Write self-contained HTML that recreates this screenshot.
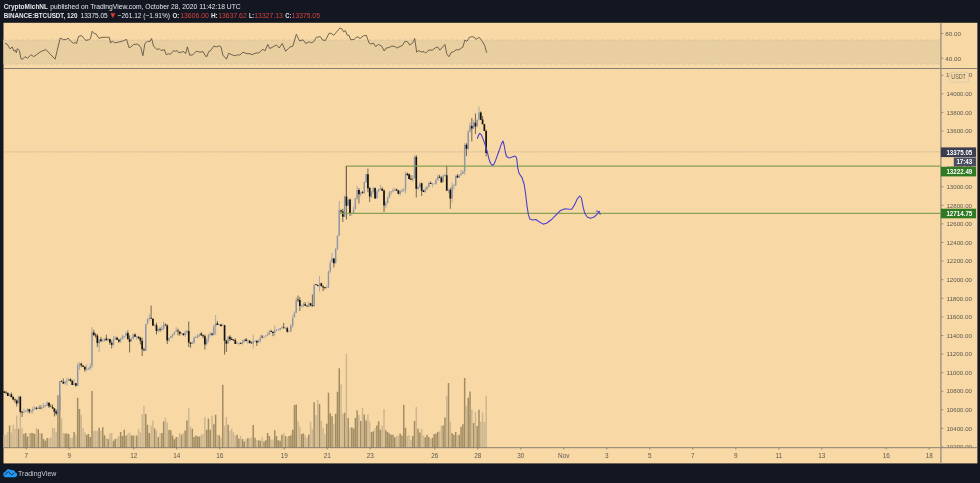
<!DOCTYPE html>
<html><head><meta charset="utf-8"><title>BTCUSDT</title>
<style>html,body{margin:0;padding:0;background:#131722;}body{width:980px;height:483px;overflow:hidden;}svg{display:block;filter:blur(0.35px);}text{font-family:"Liberation Sans",sans-serif;}</style></head><body>
<svg width="980" height="483" viewBox="0 0 980 483">
<rect x="0" y="0" width="980" height="483" fill="#131722"/>
<rect x="3.5" y="22.8" width="973.9" height="440.6" fill="#f8d9a5"/>
<g id="chart">
<rect x="3.5" y="40" width="936.2" height="24" fill="#e9cea0"/>
<path d="M3.5 40H939.7M3.5 64H939.7" stroke="#d6c3a2" stroke-width="0.9" stroke-dasharray="3.2 2.6" fill="none"/>
<polyline fill="none" stroke="#574f40" stroke-width="0.85" stroke-linejoin="round" points="5.1,43.5 7.1,44.1 10.2,49.0 12.2,46.9 13.9,51.0 15.3,50.2 16.3,52.7 17.3,48.6 19.4,50.6 21.0,58.8 22.4,59.4 24.9,56.7 27.6,58.2 31.0,54.7 33.7,56.7 40.8,51.6 45.9,49.6 55.1,59.2 60.2,38.0 63.3,39.6 66.3,39.6 68.0,38.0 70.4,40.8 73.5,43.5 75.1,42.4 76.5,43.5 78.6,36.3 81.6,35.7 85.7,40.4 88.8,39.8 90.4,38.8 92.2,31.2 94.3,33.7 95.9,33.7 99.0,38.4 102.0,37.3 109.2,37.3 110.6,43.1 112.2,41.0 114.7,42.9 122.4,41.2 126.5,39.4 129.0,47.6 130.6,47.1 133.7,44.5 136.7,44.1 138.8,44.9 140.8,47.6 142.9,55.7 144.9,43.5 147.3,41.4 150.0,41.4 151.6,38.4 153.5,46.1 157.1,49.6 159.2,48.6 161.2,50.6 164.3,49.6 166.3,54.7 168.4,53.7 170.4,54.3 173.5,50.6 175.5,51.2 177.1,50.6 178.6,52.7 183.7,51.6 185.7,53.7 187.3,46.9 189.8,55.3 192.9,54.7 196.3,51.2 200.0,52.2 200.0,52.2 203.1,51.6 205.7,56.3 207.1,56.3 208.6,51.6 210.2,51.0 213.9,46.1 216.3,46.9 219.4,45.9 221.0,46.9 222.9,55.1 226.5,59.2 228.6,53.3 232.7,55.1 235.7,55.7 237.8,54.7 239.8,55.1 242.9,52.2 246.9,53.7 250.0,53.7 252.0,54.7 255.1,53.3 259.2,52.7 262.9,49.2 264.9,51.0 267.8,44.5 269.8,48.6 276.5,44.9 279.2,48.0 282.2,43.5 285.7,51.2 289.8,47.1 292.9,46.1 296.3,34.3 299.6,41.0 303.1,39.8 305.7,43.5 309.2,41.8 311.8,42.9 314.3,41.0 316.3,37.3 320.4,36.7 322.4,40.0 325.5,40.4 329.0,33.3 331.0,33.3 333.7,35.3 339.8,28.2 341.8,28.6 343.5,31.8 345.3,30.6 347.3,35.3 349.0,35.3 350.6,39.8 354.1,39.4 357.1,36.7 360.2,38.4 363.3,35.9 366.3,35.3 369.0,42.9 371.0,44.1 373.5,43.1 375.5,46.5 378.6,44.5 381.6,46.1 384.3,51.0 386.1,48.0 388.8,47.6 391.8,46.1 394.9,46.5 396.9,48.0 400.0,46.5 402.4,45.5 404.5,41.8 407.1,41.4 409.8,45.1 412.7,42.9 414.7,38.4 416.7,52.2 418.8,50.6 421.4,52.0 424.1,51.6 425.5,53.1 429.0,50.0 432.2,50.2 435.7,47.6 437.8,47.1 439.8,50.2 444.9,44.5 446.9,54.3 449.0,56.7 451.0,52.7 453.5,51.6 456.7,49.6 459.2,50.0 461.2,48.0 462.9,47.1 464.9,40.0 466.9,41.4 469.4,37.3 471.8,36.7 474.5,37.3 475.9,39.4 479.2,37.3 481.6,40.4 484.7,45.5 486.7,52.7"/>
<path d="M4.20 447.70V434.74M5.99 447.70V434.74M7.78 447.70V431.88M11.37 447.70V432.55M13.16 447.70V424.64M14.95 447.70V428.84M16.74 447.70V415.38M20.32 447.70V413.69M22.12 447.70V428.00M29.28 447.70V433.56M36.45 447.70V428.00M40.03 447.70V433.05M48.99 447.70V438.10M50.78 447.70V437.26M52.58 447.70V427.67M54.37 447.70V428.00M56.16 447.70V431.88M61.53 447.70V417.90M63.33 447.70V433.05M70.49 447.70V438.10M72.28 447.70V437.77M75.87 447.70V434.74M81.24 447.70V415.04M83.03 447.70V428.00M84.83 447.70V432.55M93.78 447.70V430.86M95.58 447.70V430.86M97.37 447.70V430.86M100.95 447.70V430.86M106.33 447.70V437.77M109.91 447.70V433.56M111.70 447.70V433.05M117.08 447.70V438.10M118.87 447.70V436.08M127.83 447.70V433.90M129.62 447.70V432.55M134.99 447.70V435.58M138.57 447.70V428.84M140.37 447.70V432.21M142.16 447.70V414.03M143.95 447.70V406.12M151.12 447.70V425.81M152.91 447.70V420.43M156.49 447.70V430.53M160.07 447.70V433.56M165.45 447.70V417.57M167.24 447.70V422.45M177.99 447.70V436.93M179.78 447.70V433.05M183.37 447.70V433.05M188.74 447.70V408.31M190.53 447.70V426.82M201.28 447.70V434.74M203.07 447.70V433.90M204.87 447.70V417.06M212.03 447.70V415.71M217.41 447.70V434.74M220.99 447.70V437.60M224.57 447.70V425.81M226.37 447.70V417.06M229.95 447.70V430.86M231.74 447.70V428.84M233.53 447.70V432.21M235.32 447.70V435.58M240.70 447.70V436.08M246.07 447.70V439.28M249.66 447.70V438.61M251.45 447.70V437.26M256.82 447.70V440.29M262.20 447.70V437.26M271.16 447.70V439.45M272.95 447.70V439.45M283.70 447.70V433.05M287.28 447.70V437.26M298.03 447.70V421.27M299.82 447.70V426.82M305.20 447.70V435.58M306.99 447.70V437.77M310.57 447.70V421.77M312.37 447.70V428.84M315.95 447.70V415.04M317.74 447.70V400.23M321.32 447.70V420.93M323.12 447.70V427.67M324.91 447.70V433.90M333.87 447.70V423.79M341.03 447.70V384.23M342.82 447.70V414.03M346.41 447.70V353.76M349.99 447.70V428.00M358.95 447.70V415.04M362.53 447.70V407.80M367.91 447.70V414.54M369.70 447.70V421.77M375.07 447.70V428.00M382.24 447.70V425.48M384.03 447.70V408.98M396.57 447.70V436.08M398.37 447.70V435.58M407.32 447.70V436.08M409.12 447.70V435.24M410.91 447.70V439.79M416.28 447.70V406.96M421.66 447.70V428.84M423.45 447.70V435.58M430.62 447.70V438.95M439.57 447.70V431.37M441.37 447.70V425.48M446.74 447.70V396.02M450.32 447.70V422.11M457.49 447.70V435.24M466.45 447.70V406.12M471.82 447.70V409.48M475.41 447.70V412.01M480.78 447.70V421.77M482.57 447.70V412.51M484.37 447.70V421.77M486.16 447.70V396.02" stroke="#cdb792" stroke-width="1.5" fill="none"/>
<path d="M9.57 447.70V425.48M18.53 447.70V428.84M23.91 447.70V433.90M25.70 447.70V433.05M27.49 447.70V436.42M31.07 447.70V433.05M32.87 447.70V433.05M34.66 447.70V433.90M38.24 447.70V429.18M41.83 447.70V433.56M43.62 447.70V438.95M45.41 447.70V440.63M47.20 447.70V438.10M57.95 447.70V395.17M59.74 447.70V395.17M65.12 447.70V433.56M66.91 447.70V433.56M68.70 447.70V433.90M74.08 447.70V431.88M77.66 447.70V397.70M79.45 447.70V408.98M86.62 447.70V434.74M88.41 447.70V433.90M90.20 447.70V436.93M91.99 447.70V390.97M99.16 447.70V427.67M102.74 447.70V427.16M104.53 447.70V435.24M108.12 447.70V438.95M113.49 447.70V440.63M115.28 447.70V438.95M120.66 447.70V431.88M122.45 447.70V436.08M124.24 447.70V429.69M126.03 447.70V435.58M131.41 447.70V435.58M133.20 447.70V435.58M136.78 447.70V435.58M145.74 447.70V414.03M147.53 447.70V424.64M149.32 447.70V433.05M154.70 447.70V428.51M158.28 447.70V436.93M161.87 447.70V433.05M163.66 447.70V421.27M169.03 447.70V429.69M170.82 447.70V430.19M172.62 447.70V435.58M174.41 447.70V439.28M176.20 447.70V436.93M181.57 447.70V434.74M185.16 447.70V430.53M186.95 447.70V420.43M192.32 447.70V428.84M194.12 447.70V436.93M195.91 447.70V435.58M197.70 447.70V436.42M199.49 447.70V436.42M206.66 447.70V429.69M208.45 447.70V418.41M210.24 447.70V429.69M213.82 447.70V424.13M215.62 447.70V414.87M219.20 447.70V435.24M222.78 447.70V384.74M228.16 447.70V424.64M237.12 447.70V434.74M238.91 447.70V438.61M242.49 447.70V438.95M244.28 447.70V441.47M247.87 447.70V438.10M253.24 447.70V424.97M255.03 447.70V437.77M258.62 447.70V440.29M260.41 447.70V440.63M263.99 447.70V441.47M265.78 447.70V440.29M267.57 447.70V433.05M269.37 447.70V436.08M274.74 447.70V430.19M276.53 447.70V436.08M278.32 447.70V440.29M280.12 447.70V440.63M281.91 447.70V434.74M285.49 447.70V436.08M289.07 447.70V436.08M290.87 447.70V435.24M292.66 447.70V429.69M294.45 447.70V404.94M296.24 447.70V404.43M301.62 447.70V433.90M303.41 447.70V433.56M308.78 447.70V434.74M314.16 447.70V402.25M319.53 447.70V404.10M326.70 447.70V423.79M328.49 447.70V392.65M330.28 447.70V413.36M332.07 447.70V416.22M335.66 447.70V413.69M337.45 447.70V391.81M339.24 447.70V368.24M344.62 447.70V412.85M348.20 447.70V417.90M351.78 447.70V427.16M353.57 447.70V428.51M355.37 447.70V417.90M357.16 447.70V410.33M360.74 447.70V420.93M364.32 447.70V414.54M366.12 447.70V420.43M371.49 447.70V431.88M373.28 447.70V431.37M376.87 447.70V425.48M378.66 447.70V421.27M380.45 447.70V429.69M385.82 447.70V430.19M387.62 447.70V431.88M389.41 447.70V433.56M391.20 447.70V434.74M392.99 447.70V434.74M394.78 447.70V437.26M400.16 447.70V433.56M401.95 447.70V435.58M403.74 447.70V404.94M405.53 447.70V427.67M412.70 447.70V436.08M414.49 447.70V420.93M418.07 447.70V428.84M419.87 447.70V432.55M425.24 447.70V437.26M427.03 447.70V434.74M428.82 447.70V436.93M432.41 447.70V437.77M434.20 447.70V433.90M435.99 447.70V433.56M437.78 447.70V431.88M443.16 447.70V425.48M444.95 447.70V417.57M448.53 447.70V383.05M452.12 447.70V433.05M453.91 447.70V434.74M455.70 447.70V431.88M459.28 447.70V434.74M461.07 447.70V426.82M462.87 447.70V424.30M464.66 447.70V378.00M468.24 447.70V397.70M470.03 447.70V391.47M473.62 447.70V422.95M477.20 447.70V425.98M478.99 447.70V409.82" stroke="#a28c64" stroke-width="1.5" fill="none"/>
<path d="M3.5 151.9H940.9" stroke="#a39a86" stroke-width="0.65" stroke-dasharray="1.1 1.0" fill="none"/>
<path d="M9.57 393.57V396.69M18.53 395.90V403.64M23.91 408.63V412.95M25.70 409.91V411.75M27.49 407.82V412.43M31.07 409.85V413.30M32.87 406.72V413.70M34.66 405.99V409.76M38.24 406.01V409.08M41.83 404.61V410.20M43.62 402.95V408.27M45.41 404.98V407.29M47.20 401.40V405.92M57.95 408.33V414.88M59.74 380.85V411.09M65.12 381.24V384.73M66.91 377.46V385.46M68.70 378.21V380.84M74.08 378.99V385.53M77.66 362.81V386.30M79.45 362.28V369.98M86.62 364.49V371.14M88.41 367.56V369.95M90.20 363.55V370.35M91.99 327.00V368.10M99.16 338.97V352.00M102.74 338.44V341.40M104.53 338.30V341.22M108.12 338.15V341.19M113.49 336.23V346.40M115.28 335.67V339.52M120.66 337.69V342.73M122.45 334.79V339.70M124.24 335.79V338.49M126.03 331.49V336.80M131.41 337.48V341.55M133.20 333.74V339.16M136.78 335.61V340.01M145.74 323.99V350.94M147.53 318.01V324.12M149.32 313.84V321.05M154.70 324.04V326.61M158.28 328.38V332.33M161.87 325.46V331.15M163.66 321.50V329.64M169.03 337.66V341.71M170.82 335.69V337.99M172.62 333.88V337.93M174.41 331.46V334.67M176.20 327.15V332.01M181.57 332.42V334.03M185.16 330.57V336.84M186.95 330.16V334.10M192.32 340.94V343.89M194.12 336.63V344.36M195.91 335.85V338.08M197.70 334.29V338.32M199.49 333.78V336.86M206.66 338.15V345.39M208.45 333.78V342.20M210.24 332.44V336.77M213.82 324.38V335.63M215.62 315.00V334.70M219.20 324.03V325.98M222.78 323.44V325.18M228.16 336.14V343.48M237.12 341.55V343.59M238.91 342.45V345.38M242.49 339.62V344.81M244.28 338.95V342.07M247.87 339.36V343.86M253.24 334.50V348.50M255.03 340.41V341.91M258.62 339.07V342.61M260.41 335.04V342.49M263.99 336.54V338.58M265.78 335.31V336.87M267.57 332.67V335.62M269.37 330.16V334.69M274.74 325.43V335.84M276.53 329.35V330.60M278.32 329.49V330.92M280.12 327.89V331.00M281.91 326.26V329.06M285.49 327.22V328.87M289.07 330.85V331.62M290.87 323.86V332.27M292.66 314.84V327.60M294.45 311.37V317.45M296.24 297.48V313.00M301.62 304.64V307.40M303.41 302.43V307.48M308.78 301.07V307.19M314.16 283.65V306.59M319.53 276.00V291.50M326.70 285.77V288.30M328.49 270.70V287.80M330.28 260.33V273.10M332.07 253.00V262.72M335.66 247.77V263.80M337.45 235.25V250.25M339.24 201.00V235.74M344.62 195.77V216.98M348.20 198.72V206.10M351.78 212.58V215.61M353.57 206.44V213.02M355.37 197.71V209.07M357.16 185.87V199.39M360.74 191.64V196.42M364.32 181.63V193.69M366.12 173.85V182.74M371.49 191.19V198.23M373.28 186.64V193.52M376.87 189.77V198.63M378.66 188.88V192.22M380.45 184.80V189.99M385.82 200.88V208.31M387.62 196.73V203.55M389.41 190.91V198.09M391.20 191.03V194.87M392.99 188.26V192.43M394.78 188.28V191.16M400.16 190.40V195.55M401.95 188.56V192.25M403.74 188.22V192.19M405.53 171.81V193.30M412.70 175.14V181.68M414.49 155.29V178.12M418.07 185.96V189.87M419.87 182.14V187.85M425.24 187.32V193.06M427.03 186.24V190.13M428.82 182.16V187.66M432.41 183.12V187.26M434.20 183.64V184.19M435.99 178.35V184.73M437.78 174.44V180.85M443.16 174.45V182.10M444.95 173.61V176.67M448.53 189.21V193.25M452.12 182.62V202.35M453.91 183.71V189.73M455.70 175.24V185.79M459.28 174.30V177.99M461.07 169.95V175.24M462.87 170.07V173.79M464.66 143.04V174.69M468.24 130.19V149.97M470.03 122.45V132.55M473.62 120.20V128.36M477.20 119.27V127.21M478.99 106.60V120.45" stroke="#8d95a8" stroke-width="0.7" fill="none"/>
<path d="M4.20 390.85V393.09M5.99 390.75V393.46M7.78 392.21V395.98M11.37 392.52V397.61M13.16 396.02V400.41M14.95 398.43V402.81M16.74 399.37V406.50M20.32 395.84V413.67M22.12 411.10V417.00M29.28 408.79V413.50M36.45 407.10V409.76M40.03 405.33V409.00M48.99 402.26V407.91M50.78 404.31V406.72M52.58 404.56V408.96M54.37 407.98V416.50M56.16 409.35V415.37M61.53 380.25V381.56M63.33 378.48V383.87M70.49 378.56V381.61M72.28 379.98V384.92M75.87 382.95V386.88M81.24 362.57V367.31M83.03 364.99V366.85M84.83 366.44V371.83M93.78 329.85V336.24M95.58 333.23V337.74M97.37 334.01V347.00M100.95 336.83V342.37M106.33 334.74V340.63M109.91 338.74V344.71M111.70 340.46V348.50M117.08 336.69V339.96M118.87 338.75V342.92M127.83 330.33V339.22M129.62 335.35V352.50M134.99 333.33V337.03M138.57 336.19V338.74M140.37 336.80V344.33M142.16 337.60V356.00M143.95 347.79V350.56M151.12 305.60V319.11M152.91 318.34V326.07M156.49 322.77V334.50M160.07 327.37V331.75M165.45 323.43V325.33M167.24 324.21V344.00M177.99 328.63V335.33M179.78 330.91V335.81M183.37 333.35V335.82M188.74 321.50V347.00M190.53 342.11V347.82M201.28 332.20V335.94M203.07 334.64V338.29M204.87 334.40V349.60M212.03 332.49V335.65M217.41 321.02V324.88M220.99 324.08V326.87M224.57 324.82V354.50M226.37 339.71V352.00M229.95 335.29V341.22M231.74 337.09V339.97M233.53 338.97V340.79M235.32 338.28V343.98M240.70 342.38V343.70M246.07 338.03V341.29M249.66 340.17V343.47M251.45 341.53V343.77M256.82 339.94V346.00M262.20 334.94V337.66M271.16 329.71V332.25M272.95 330.90V336.21M283.70 323.00V328.20M287.28 326.73V332.54M298.03 295.50V301.94M299.82 297.14V311.00M305.20 302.02V305.84M306.99 305.45V306.48M310.57 302.99V306.28M312.37 294.50V306.30M315.95 284.17V285.17M317.74 284.54V286.50M321.32 282.67V286.93M323.12 285.20V291.14M324.91 287.08V289.19M333.87 258.31V267.50M341.03 209.44V212.76M342.82 208.82V222.00M346.41 166.40V219.50M349.99 198.59V216.00M358.95 188.13V203.50M362.53 190.99V193.73M367.91 168.60V192.14M369.70 187.59V202.00M375.07 187.49V198.88M382.24 187.42V190.64M384.03 189.51V212.00M396.57 188.68V191.14M398.37 189.83V194.38M407.32 172.48V176.05M409.12 173.43V179.49M410.91 175.08V179.75M416.28 155.00V197.50M421.66 182.70V196.00M423.45 189.78V191.96M430.62 181.33V183.93M439.57 174.83V178.07M441.37 176.39V182.35M446.74 165.50V190.60M450.32 187.94V208.80M457.49 174.15V177.95M466.45 143.17V156.00M471.82 118.00V141.50M475.41 113.50V134.00M480.78 111.36V119.77M482.57 116.01V124.20M484.37 123.86V131.09M486.16 129.64V156.40" stroke="#3a362e" stroke-width="0.7" fill="none"/>
<path d="M9.57 394.58V396.10M18.53 397.11V403.45M23.91 412.00V412.70M25.70 410.91V411.85M27.49 409.09V411.12M31.07 410.77V411.47M32.87 408.98V410.64M34.66 408.42V409.12M38.24 407.97V409.03M41.83 407.32V408.35M43.62 406.31V407.45M45.41 405.32V406.02M47.20 402.49V405.88M57.95 410.33V413.70M59.74 381.29V410.37M65.12 381.46V383.46M66.91 380.60V381.56M68.70 379.04V380.66M74.08 383.55V384.95M77.66 365.73V385.93M79.45 364.22V365.88M86.62 368.95V369.65M88.41 367.97V369.02M90.20 366.19V368.13M91.99 332.22V365.95M99.16 339.32V343.39M102.74 340.79V341.49M104.53 338.68V341.22M108.12 338.86V340.42M113.49 339.43V344.87M115.28 337.84V339.70M120.66 338.78V341.21M122.45 336.60V338.63M124.24 336.18V336.88M126.03 333.17V336.10M131.41 338.84V341.31M133.20 334.40V338.63M136.78 336.35V337.05M145.74 324.25V350.82M147.53 319.64V324.16M149.32 318.31V319.43M154.70 324.76V325.69M158.28 329.22V330.97M161.87 328.57V330.05M163.66 324.66V328.64M169.03 337.94V340.59M170.82 336.07V337.94M172.62 334.30V336.11M174.41 332.36V334.56M176.20 330.38V332.12M181.57 333.33V334.03M185.16 332.41V335.30M186.95 330.84V332.59M192.32 342.71V344.08M194.12 337.41V342.76M195.91 337.06V337.76M197.70 334.88V337.42M199.49 333.99V334.72M206.66 339.60V344.10M208.45 334.99V339.58M210.24 333.64V334.72M213.82 326.68V335.02M215.62 323.60V326.41M219.20 324.30V325.00M222.78 324.91V325.61M228.16 336.57V343.57M237.12 342.82V343.52M238.91 343.00V343.70M242.49 341.71V343.38M244.28 339.51V342.24M247.87 340.68V341.38M253.24 341.41V343.38M255.03 340.69V341.61M258.62 340.30V342.74M260.41 337.43V340.75M263.99 336.64V337.34M265.78 335.62V336.57M267.57 334.31V335.56M269.37 331.59V334.71M274.74 330.10V333.05M276.53 329.62V330.32M278.32 329.48V330.18M280.12 328.09V329.55M281.91 327.50V328.25M285.49 327.84V328.54M289.07 331.08V331.78M290.87 325.49V331.36M292.66 317.88V325.49M294.45 312.76V317.44M296.24 300.08V312.86M301.62 305.67V306.52M303.41 304.25V305.81M308.78 303.50V306.80M314.16 284.93V306.19M319.53 283.41V285.34M326.70 286.73V287.43M328.49 271.23V287.60M330.28 263.19V271.32M332.07 257.98V262.33M335.66 248.98V262.98M337.45 235.73V248.99M339.24 210.02V235.70M344.62 196.28V216.94M348.20 200.00V205.70M351.78 212.77V213.47M353.57 209.32V213.15M355.37 198.24V209.15M357.16 189.90V198.53M360.74 192.69V194.14M364.32 181.96V193.25M366.12 174.06V182.35M371.49 191.82V196.74M373.28 188.59V192.08M376.87 191.38V198.20M378.66 189.10V191.22M380.45 188.31V189.52M385.82 202.99V205.52M387.62 197.69V203.04M389.41 192.51V197.63M391.20 191.40V192.30M392.99 190.29V191.36M394.78 189.16V190.53M400.16 191.17V193.81M401.95 190.36V191.21M403.74 189.64V190.34M405.53 173.41V189.80M412.70 178.09V180.03M414.49 157.51V178.13M418.07 186.95V189.03M419.87 183.78V186.88M425.24 189.35V192.00M427.03 186.69V189.22M428.82 182.84V186.97M432.41 183.62V184.32M434.20 183.55V184.25M435.99 180.19V183.75M437.78 176.49V180.04M443.16 175.63V182.03M444.95 174.96V175.66M448.53 189.70V190.69M452.12 186.14V198.38M453.91 185.23V185.93M455.70 176.27V185.50M459.28 175.52V177.41M461.07 173.75V175.39M462.87 171.67V173.93M464.66 145.22V171.71M468.24 131.38V149.03M470.03 125.56V131.16M473.62 122.50V128.43M477.20 119.99V126.30M478.99 112.43V119.44" stroke="#8d95a8" stroke-width="1.4" fill="none"/>
<path d="M4.20 391.41V392.78M5.99 392.50V393.20M7.78 393.04V395.88M11.37 394.15V397.06M13.16 397.05V399.59M14.95 399.62V400.32M16.74 400.56V403.47M20.32 396.87V411.92M22.12 411.80V412.50M29.28 409.18V411.62M36.45 407.87V408.79M40.03 407.79V408.49M48.99 402.65V406.28M50.78 406.17V406.87M52.58 407.11V408.45M54.37 408.42V411.83M56.16 411.57V413.55M61.53 381.21V381.91M63.33 381.90V383.55M70.49 379.21V380.98M72.28 381.06V384.97M75.87 383.26V385.56M81.24 363.86V365.13M83.03 365.42V366.74M84.83 366.78V369.58M93.78 332.41V334.94M95.58 334.66V335.40M97.37 335.79V343.04M100.95 339.43V340.94M106.33 338.62V340.21M109.91 339.07V342.79M111.70 343.05V344.65M117.08 337.83V339.79M118.87 339.80V341.52M127.83 332.98V339.23M129.62 339.32V341.80M134.99 334.59V336.71M138.57 336.86V338.19M140.37 337.75V340.65M142.16 340.82V349.21M143.95 349.44V350.62M151.12 317.66V318.54M152.91 318.65V325.43M156.49 325.21V330.93M160.07 329.29V329.99M165.45 324.71V325.41M167.24 325.43V340.39M177.99 330.56V331.33M179.78 331.72V333.82M183.37 333.59V335.06M188.74 331.06V342.51M190.53 342.45V343.86M201.28 333.49V335.23M203.07 335.22V336.22M204.87 336.35V344.55M212.03 333.70V334.73M217.41 323.20V325.04M220.99 324.42V326.00M224.57 325.26V340.72M226.37 340.64V343.79M229.95 336.64V339.26M231.74 339.07V339.98M233.53 339.82V340.52M235.32 340.25V343.99M240.70 343.18V343.88M246.07 339.52V341.08M249.66 340.80V342.98M251.45 342.65V343.35M256.82 340.97V342.54M262.20 336.72V337.42M271.16 331.30V332.00M272.95 332.01V333.05M283.70 327.56V328.26M287.28 328.34V331.72M298.03 299.60V300.30M299.82 300.05V305.96M305.20 304.31V305.72M306.99 305.84V306.54M310.57 303.31V305.28M312.37 305.19V306.19M315.95 284.34V285.04M317.74 285.11V285.81M321.32 283.37V286.08M323.12 286.50V287.56M324.91 287.31V288.01M333.87 258.52V263.19M341.03 210.38V211.43M342.82 211.52V216.72M346.41 196.53V205.68M349.99 199.46V213.37M358.95 190.02V194.21M362.53 192.30V193.04M367.91 174.13V188.35M369.70 187.86V196.58M375.07 188.10V198.38M382.24 188.78V190.79M384.03 190.45V205.44M396.57 189.50V190.46M398.37 190.48V193.65M407.32 173.71V174.96M409.12 174.32V178.89M410.91 178.72V179.82M416.28 157.08V188.82M421.66 183.17V190.75M423.45 190.51V192.11M430.62 183.09V183.95M439.57 176.66V177.71M441.37 177.76V182.47M446.74 175.13V190.77M450.32 189.70V198.42M457.49 175.71V177.56M466.45 144.74V148.83M471.82 126.04V128.62M475.41 122.82V126.38M480.78 112.45V119.78M482.57 119.60V124.13M484.37 124.26V131.01M486.16 131.02V152.90" stroke="#15130f" stroke-width="1.7" fill="none"/>
<path d="M345.6 166.1H940.9M339.9 213.3H940.9" stroke="#86a156" stroke-width="1.25" fill="none"/>
<path d="M346.3 166.3V196" stroke="#6a6150" stroke-width="0.9" fill="none"/>
<polyline fill="none" stroke="#4b40d0" stroke-width="1.1" stroke-linejoin="round" stroke-linecap="round" points="477.4,138.4 478.6,135.0 479.8,133.4 481.3,134.8 483.1,138.9 486.5,148.8 488.9,158.7 490.6,163.5 492.3,165.4 494.0,164.0 495.6,160.4 498.9,151.3 501.4,143.8 503.0,141.0 504.2,145.5 505.5,153.0 506.4,156.0 508.4,157.8 510.5,157.6 512.1,157.1 514.9,156.1 516.2,157.2 516.8,159.3 517.7,167.7 519.0,173.3 522.0,177.6 524.2,184.5 525.7,194.7 527.0,205.9 528.3,214.2 529.8,218.9 532.6,220.0 535.8,219.5 539.1,221.7 543.2,224.1 546.6,223.2 551.2,219.8 555.9,215.2 560.5,210.5 565.2,208.7 568.9,209.2 571.7,209.2 574.5,204.9 577.3,198.8 579.7,196.0 581.4,198.0 582.9,205.9 584.7,213.3 587.2,217.0 590.3,218.3 594.0,217.0 596.8,214.6 599.3,211.5"/>
<path d="M596.3 211.2L599.4 211.4L600.2 214.6" fill="none" stroke="#4b40d0" stroke-width="0.9" stroke-linecap="round" stroke-linejoin="round"/>
</g>
<path d="M3.5 68.5H977.4M3.5 447.7H977.4" stroke="#7b766b" stroke-width="0.9" fill="none"/>
<path d="M940.9 22.8V463.4" stroke="#989080" stroke-width="1.35" fill="none"/>
<g font-size="6.2" fill="#5c5852">
<text x="946.4" y="96.0" textLength="25.6" lengthAdjust="spacingAndGlyphs">14000.00</text>
<text x="946.4" y="114.6" textLength="25.6" lengthAdjust="spacingAndGlyphs">13800.00</text>
<text x="946.4" y="133.2" textLength="25.6" lengthAdjust="spacingAndGlyphs">13600.00</text>
<text x="946.4" y="151.8" textLength="25.6" lengthAdjust="spacingAndGlyphs">13400.00</text>
<text x="946.4" y="170.4" textLength="25.6" lengthAdjust="spacingAndGlyphs">13200.00</text>
<text x="946.4" y="188.9" textLength="25.6" lengthAdjust="spacingAndGlyphs">13000.00</text>
<text x="946.4" y="207.5" textLength="25.6" lengthAdjust="spacingAndGlyphs">12800.00</text>
<text x="946.4" y="226.1" textLength="25.6" lengthAdjust="spacingAndGlyphs">12600.00</text>
<text x="946.4" y="244.7" textLength="25.6" lengthAdjust="spacingAndGlyphs">12400.00</text>
<text x="946.4" y="263.3" textLength="25.6" lengthAdjust="spacingAndGlyphs">12200.00</text>
<text x="946.4" y="281.9" textLength="25.6" lengthAdjust="spacingAndGlyphs">12000.00</text>
<text x="946.4" y="300.5" textLength="25.6" lengthAdjust="spacingAndGlyphs">11800.00</text>
<text x="946.4" y="319.1" textLength="25.6" lengthAdjust="spacingAndGlyphs">11600.00</text>
<text x="946.4" y="337.7" textLength="25.6" lengthAdjust="spacingAndGlyphs">11400.00</text>
<text x="946.4" y="356.3" textLength="25.6" lengthAdjust="spacingAndGlyphs">11200.00</text>
<text x="946.4" y="374.9" textLength="25.6" lengthAdjust="spacingAndGlyphs">11000.00</text>
<text x="946.4" y="393.4" textLength="25.6" lengthAdjust="spacingAndGlyphs">10800.00</text>
<text x="946.4" y="412.0" textLength="25.6" lengthAdjust="spacingAndGlyphs">10600.00</text>
<text x="946.4" y="430.6" textLength="25.6" lengthAdjust="spacingAndGlyphs">10400.00</text>
<text x="945.3" y="35.7" textLength="15.7" lengthAdjust="spacingAndGlyphs">80.00</text>
<text x="945.3" y="60.5" textLength="15.7" lengthAdjust="spacingAndGlyphs">40.00</text>
</g>
<path d="M941.3 75.2h2M941.3 93.8h2M941.3 112.4h2M941.3 131.0h2M941.3 149.6h2M941.3 168.2h2M941.3 186.8h2M941.3 205.3h2M941.3 223.9h2M941.3 242.5h2M941.3 261.1h2M941.3 279.7h2M941.3 298.3h2M941.3 316.9h2M941.3 335.5h2M941.3 354.1h2M941.3 372.7h2M941.3 391.2h2M941.3 409.8h2M941.3 428.4h2M941.3 447.0h2M941.3 33.5h2M941.3 58.3h2" stroke="#6f685a" stroke-width="0.7" fill="none"/>
<clipPath id="cb"><rect x="942" y="440" width="36" height="7.2"/></clipPath>
<g clip-path="url(#cb)" font-size="6.2" fill="#5c5852"><text x="946.4" y="449.2" textLength="25.6" lengthAdjust="spacingAndGlyphs">10200.00</text></g>
<g font-size="6.2" fill="#5c5852"><text x="946.1" y="77.4" textLength="26.2" lengthAdjust="spacingAndGlyphs">14200.00</text></g>
<rect x="949.3" y="72.3" width="19.3" height="9.8" rx="2" fill="#f8d9a5" stroke="#cfc6b2" stroke-width="0.7"/>
<text x="951.3" y="78.5" font-size="6.3" fill="#5c5852" textLength="14.6" lengthAdjust="spacingAndGlyphs">USDT</text>
<rect x="940.9" y="147.4" width="35.2" height="9.7" fill="#3a3e4e"/>
<text x="946.4" y="154.6" font-size="6.4" font-weight="bold" fill="#ffffff" textLength="25.9" lengthAdjust="spacingAndGlyphs">13375.05</text>
<rect x="953.8" y="157.6" width="22.3" height="8.8" fill="#4a4e5e"/>
<text x="956.4" y="164.3" font-size="6.4" font-weight="bold" fill="#ffffff" textLength="15.9" lengthAdjust="spacingAndGlyphs">17:43</text>
<path d="M953.8 157.4H976.1" stroke="#8c8fa0" stroke-width="0.5" fill="none"/>
<rect x="940.9" y="166.8" width="35.2" height="9.6" fill="#2f7a22"/>
<text x="946.4" y="173.9" font-size="6.4" font-weight="bold" fill="#ffffff" textLength="25.9" lengthAdjust="spacingAndGlyphs">13222.49</text>
<rect x="940.9" y="208.7" width="35.2" height="9.6" fill="#2f7a22"/>
<text x="946.4" y="215.8" font-size="6.4" font-weight="bold" fill="#ffffff" textLength="25.9" lengthAdjust="spacingAndGlyphs">12714.75</text>
<g font-size="6.4" fill="#5c5852" text-anchor="middle">
<text x="26.2" y="458.1">7</text>
<text x="69.2" y="458.1">9</text>
<text x="133.8" y="458.1">12</text>
<text x="176.8" y="458.1">14</text>
<text x="219.8" y="458.1">16</text>
<text x="284.2" y="458.1">19</text>
<text x="327.2" y="458.1">21</text>
<text x="370.2" y="458.1">23</text>
<text x="434.8" y="458.1">26</text>
<text x="477.8" y="458.1">28</text>
<text x="520.8" y="458.1">30</text>
<text x="563.8" y="458.1">Nov</text>
<text x="606.8" y="458.1">3</text>
<text x="649.8" y="458.1">5</text>
<text x="692.8" y="458.1">7</text>
<text x="735.8" y="458.1">9</text>
<text x="778.8" y="458.1">11</text>
<text x="821.8" y="458.1">13</text>
<text x="886.2" y="458.1">16</text>
<text x="929.2" y="458.1">18</text>
</g>
<path d="M26.2 447.7v1.8M69.2 447.7v1.8M133.8 447.7v1.8M176.8 447.7v1.8M219.8 447.7v1.8M284.2 447.7v1.8M327.2 447.7v1.8M370.2 447.7v1.8M434.8 447.7v1.8M477.8 447.7v1.8M520.8 447.7v1.8M563.8 447.7v1.8M606.8 447.7v1.8M649.8 447.7v1.8M692.8 447.7v1.8M735.8 447.7v1.8M778.8 447.7v1.8M821.8 447.7v1.8M886.2 447.7v1.8M929.2 447.7v1.8" stroke="#6f685a" stroke-width="0.7" fill="none"/>
<text x="3.7" y="9.4" font-size="7.3" font-weight="bold" fill="#e4e6ea" textLength="44.3" lengthAdjust="spacingAndGlyphs">CryptoMichNL</text>
<text x="50.2" y="9.4" font-size="7.3" fill="#e4e6ea" textLength="190.5" lengthAdjust="spacingAndGlyphs">published on TradingView.com, October 28, 2020 11:42:18 UTC</text>
<text x="3.7" y="18.3" font-size="7.3" font-weight="bold" fill="#e4e6ea" textLength="73.7" lengthAdjust="spacingAndGlyphs">BINANCE:BTCUSDT, 120</text>
<text x="80.5" y="18.3" font-size="7.3" fill="#e4e6ea" textLength="27.2" lengthAdjust="spacingAndGlyphs">13375.05</text>
<path d="M110.4 13.2h4.9l-2.45 4.9z" fill="#e53935"/>
<text x="117.6" y="18.3" font-size="7.3" fill="#e4e6ea" textLength="52.4" lengthAdjust="spacingAndGlyphs">−261.12 (−1.91%)</text>
<text x="172.5" y="18.3" font-size="7.3" font-weight="bold" fill="#e4e6ea" textLength="6.8" lengthAdjust="spacingAndGlyphs">O:</text>
<text x="180.2" y="18.3" font-size="7.3" fill="#d6443f" textLength="28.6" lengthAdjust="spacingAndGlyphs">13606.00</text>
<text x="210.9" y="18.3" font-size="7.3" font-weight="bold" fill="#e4e6ea" textLength="6.8" lengthAdjust="spacingAndGlyphs">H:</text>
<text x="218.3" y="18.3" font-size="7.3" fill="#d6443f" textLength="28.4" lengthAdjust="spacingAndGlyphs">13637.62</text>
<text x="249.0" y="18.3" font-size="7.3" font-weight="bold" fill="#e4e6ea" textLength="5.0" lengthAdjust="spacingAndGlyphs">L:</text>
<text x="254.3" y="18.3" font-size="7.3" fill="#d6443f" textLength="28.5" lengthAdjust="spacingAndGlyphs">13327.13</text>
<text x="285.3" y="18.3" font-size="7.3" font-weight="bold" fill="#e4e6ea" textLength="6.1" lengthAdjust="spacingAndGlyphs">C:</text>
<text x="291.7" y="18.3" font-size="7.3" fill="#d6443f" textLength="28.2" lengthAdjust="spacingAndGlyphs">13375.05</text>
<g id="logo">
<path d="M5.4 477.2h9.5a2.35 2.35 0 0 0 0.5-4.65a3.0 3.0 0 0 0-4.1-2.25a3.4 3.4 0 0 0-5.8 1.3a2.85 2.85 0 0 0-0.1 5.6z" fill="#2196f3"/>
<path d="M4.6 474.6l3.9-3.0l3.2 3.4l2.6-2.1" fill="none" stroke="#131722" stroke-width="0.75" stroke-linejoin="round"/>
<text x="18.1" y="475.6" font-size="7.4" fill="#c9ccd3" textLength="38.2" lengthAdjust="spacingAndGlyphs">TradingView</text>
</g>
</svg></body></html>
